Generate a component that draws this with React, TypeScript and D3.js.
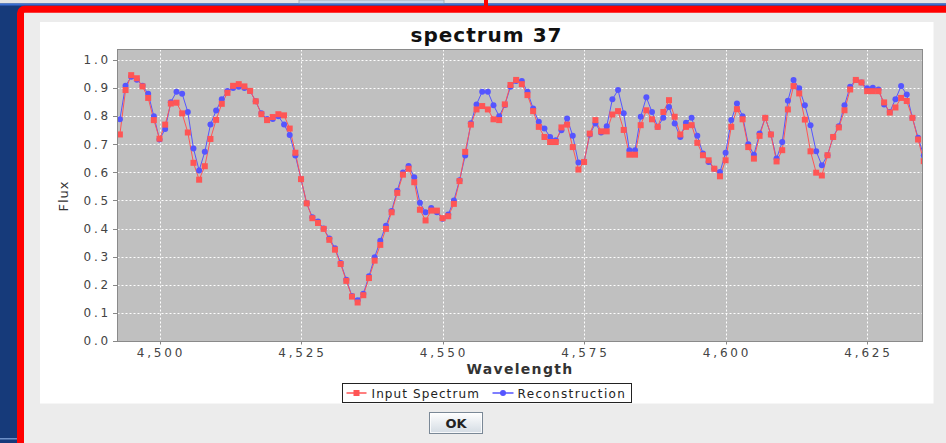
import React from "react";
import * as d3 from "d3";

const wavelengths = [
  4493, 4494, 4495, 4496, 4497, 4498, 4499, 4500, 4501, 4502,
  4503, 4504, 4505, 4506, 4507, 4508, 4509, 4510, 4511, 4512,
  4513, 4514, 4515, 4516, 4517, 4518, 4519, 4520, 4521, 4522,
  4523, 4524, 4525, 4526, 4527, 4528, 4529, 4530, 4531, 4532,
  4533, 4534, 4535, 4536, 4537, 4538, 4539, 4540, 4541, 4542,
  4543, 4544, 4545, 4546, 4547, 4548, 4549, 4550, 4551, 4552,
  4553, 4554, 4555, 4556, 4557, 4558, 4559, 4560, 4561, 4562,
  4563, 4564, 4565, 4566, 4567, 4568, 4569, 4570, 4571, 4572,
  4573, 4574, 4575, 4576, 4577, 4578, 4579, 4580, 4581, 4582,
  4583, 4584, 4585, 4586, 4587, 4588, 4589, 4590, 4591, 4592,
  4593, 4594, 4595, 4596, 4597, 4598, 4599, 4600, 4601, 4602,
  4603, 4604, 4605, 4606, 4607, 4608, 4609, 4610, 4611, 4612,
  4613, 4614, 4615, 4616, 4617, 4618, 4619, 4620, 4621, 4622,
  4623, 4624, 4625, 4626, 4627, 4628, 4629, 4630, 4631, 4632,
  4633, 4634, 4635,
];

const inputSpectrum = [
  0.735, 0.893, 0.946, 0.935, 0.906, 0.865, 0.786, 0.72, 0.77, 0.845,
  0.848, 0.81, 0.742, 0.634, 0.574, 0.622, 0.719, 0.787, 0.844, 0.883,
  0.908, 0.914, 0.906, 0.89, 0.853, 0.807, 0.786, 0.797, 0.807, 0.803,
  0.756, 0.67, 0.576, 0.49, 0.437, 0.42, 0.399, 0.36, 0.325, 0.274,
  0.214, 0.158, 0.137, 0.163, 0.224, 0.286, 0.342, 0.399, 0.458, 0.527,
  0.592, 0.613, 0.565, 0.467, 0.429, 0.464, 0.464, 0.437, 0.444, 0.488,
  0.569, 0.673, 0.77, 0.824, 0.836, 0.824, 0.789, 0.786, 0.842, 0.911,
  0.929, 0.914, 0.875, 0.818, 0.762, 0.726, 0.708, 0.708, 0.76, 0.77,
  0.69, 0.61, 0.637, 0.738, 0.786, 0.746, 0.746, 0.806, 0.818, 0.751,
  0.663, 0.663, 0.768, 0.821, 0.789, 0.762, 0.815, 0.857, 0.798, 0.735,
  0.762, 0.768, 0.705, 0.661, 0.643, 0.613, 0.586, 0.643, 0.762, 0.825,
  0.789, 0.69, 0.649, 0.73, 0.794, 0.735, 0.639, 0.679, 0.824, 0.907,
  0.881, 0.788, 0.675, 0.599, 0.589, 0.661, 0.726, 0.76, 0.821, 0.895,
  0.929, 0.92, 0.889, 0.889, 0.889, 0.849, 0.813, 0.831, 0.865, 0.854,
  0.794, 0.717, 0.64,
];

const reconstruction = [
  0.789, 0.908, 0.94, 0.93, 0.908, 0.88, 0.8, 0.717, 0.754, 0.85,
  0.887, 0.88, 0.815, 0.685, 0.607, 0.673, 0.77, 0.82, 0.86, 0.89,
  0.9, 0.905, 0.9, 0.89, 0.853, 0.81, 0.79, 0.79, 0.8, 0.77,
  0.733, 0.66, 0.576, 0.49, 0.44, 0.425, 0.4, 0.365, 0.33, 0.278,
  0.218, 0.16, 0.145, 0.168, 0.23, 0.298, 0.357, 0.41, 0.463, 0.535,
  0.6, 0.623, 0.583, 0.492, 0.458, 0.473, 0.458, 0.435, 0.45, 0.5,
  0.572, 0.66, 0.775, 0.842, 0.887, 0.887, 0.839, 0.8, 0.84, 0.905,
  0.925, 0.925, 0.887, 0.827, 0.78, 0.756, 0.726, 0.714, 0.75, 0.792,
  0.73, 0.635, 0.637, 0.735, 0.774, 0.742, 0.764, 0.86, 0.893, 0.81,
  0.679, 0.679, 0.798, 0.867, 0.815, 0.762, 0.794, 0.833, 0.774, 0.726,
  0.777, 0.794, 0.73, 0.667, 0.637, 0.613, 0.601, 0.67, 0.786, 0.845,
  0.8, 0.7, 0.663, 0.738, 0.794, 0.735, 0.649, 0.708, 0.855, 0.929,
  0.899, 0.839, 0.768, 0.675, 0.625, 0.661, 0.726, 0.764, 0.839, 0.905,
  0.929, 0.92, 0.899, 0.901, 0.895, 0.842, 0.815, 0.86, 0.907, 0.877,
  0.794, 0.723, 0.66,
];

const xTicks = [4500, 4525, 4550, 4575, 4600, 4625];
const yTicks = [0.0, 0.1, 0.2, 0.3, 0.4, 0.5, 0.6, 0.7, 0.8, 0.9, 1.0];
const chartTitle = "spectrum 37";
const xAxisLabel = "Wavelength";
const yAxisLabel = "Flux";
const seriesNames = ["Input Spectrum", "Reconstruction"];
const seriesColors = ["#FF5555", "#5555FF"];
const buttonLabel = "OK";

const FONT = "'DejaVu Sans', Verdana, sans-serif";

export default function App() {
  const W = 946;
  const H = 443;
  const plot = { left: 117.5, right: 922.5, top: 49.5, bottom: 341.5 };

  const x = d3.scaleLinear().domain([4492.58, 4634.78]).range([plot.left, plot.right]);
  const y = d3.scaleLinear().domain([0, 1.038]).range([341, 49.3]);

  const inputPts = wavelengths.map((w, i) => [w, inputSpectrum[i]] as [number, number]);
  const reconPts = wavelengths.map((w, i) => [w, reconstruction[i]] as [number, number]);

  const line = d3
    .line<[number, number]>()
    .x((d) => x(d[0]))
    .y((d) => y(d[1]));

  const fmtX = d3.format(",");
  const fmtY = d3.format(".1f");
  const snap = (v: number) => Math.round(v) + 0.5;

  return (
    <svg
      width={W}
      height={H}
      style={{ position: "fixed", left: 0, top: 0, display: "block" }}
      fontFamily={FONT}
    >
      <defs>
        <clipPath id="plotClip">
          <rect x={plot.left} y={plot.top} width={plot.right - plot.left} height={plot.bottom - plot.top} />
        </clipPath>
        <linearGradient id="btnGrad" x1="0" y1="0" x2="0" y2="1">
          <stop offset="0%" stopColor="#ffffff" />
          <stop offset="100%" stopColor="#d3dbe3" />
        </linearGradient>
      </defs>

      {/* desktop background */}
      <rect x={0} y={0} width={W} height={H} fill="#163a7a" />
      <rect x={0} y={0} width={W} height={3.5} fill="#e4e4e4" />
      <rect x={299} y={0} width={145} height={3.5} fill="#c9d9ec" stroke="#9aa4ad" strokeWidth={0.8} />
      <rect x={0} y={3.5} width={W} height={2} fill="#3b6fd2" />
      <rect x={0} y={438} width={17} height={1.5} fill="#6d8fc8" />

      {/* red frame */}
      <rect x={20.5} y={9.2} width={1000} height={1000} rx={4} fill="#ececec" stroke="#ff0000" strokeWidth={7} />
      <path d="M484,0 L488,0 L488,6 L490,6 L486,12 L482,6 L484,6 Z" fill="#ff0000" />

      {/* white chart panel */}
      <rect x={40} y={22} width={893.5} height={381.5} fill="#ffffff" />

      {/* title */}
      <text x={486.5} y={42} textAnchor="middle" fontSize={20} fontWeight="bold" fill="#111" letterSpacing={1}>
        {chartTitle}
      </text>

      {/* plot background */}
      <rect x={plot.left} y={plot.top} width={plot.right - plot.left} height={plot.bottom - plot.top} fill="#c0c0c0" />

      {/* gridlines */}
      {yTicks.slice(1).map((t) => (
        <line
          key={"gy" + t}
          x1={plot.left}
          x2={plot.right}
          y1={snap(y(t))}
          y2={snap(y(t))}
          stroke="#ffffff"
          strokeWidth={1}
          strokeDasharray="2,2"
        />
      ))}
      {xTicks.map((t) => (
        <line
          key={"gx" + t}
          x1={snap(x(t))}
          x2={snap(x(t))}
          y1={plot.top}
          y2={plot.bottom}
          stroke="#ffffff"
          strokeWidth={1}
          strokeDasharray="2,2"
        />
      ))}

      {/* series */}
      <g clipPath="url(#plotClip)">
        <path d={line(reconPts) || ""} fill="none" stroke={seriesColors[1]} strokeWidth={1} />
        <path d={line(inputPts) || ""} fill="none" stroke={seriesColors[0]} strokeWidth={1} />
        {reconPts.map((d, i) => (
          <circle key={"c" + i} cx={x(d[0])} cy={y(d[1])} r={3} fill={seriesColors[1]} />
        ))}
        {inputPts.map((d, i) => (
          <rect key={"s" + i} x={x(d[0]) - 3} y={y(d[1]) - 3} width={6} height={6} fill={seriesColors[0]} />
        ))}
      </g>

      {/* plot outline */}
      <rect
        x={plot.left}
        y={plot.top}
        width={plot.right - plot.left}
        height={plot.bottom - plot.top}
        fill="none"
        stroke="#8a8a8a"
        strokeWidth={1}
      />

      {/* y axis ticks and labels */}
      {yTicks.map((t) => (
        <g key={"ty" + t}>
          <line x1={plot.left - 4.5} x2={plot.left} y1={snap(y(t))} y2={snap(y(t))} stroke="#888" strokeWidth={1} />
          <text
            x={111}
            y={y(t) + 4.3}
            textAnchor="end"
            fontSize={12}
            fill="#444"
            letterSpacing={2.8}
          >
            {fmtY(t)}
          </text>
        </g>
      ))}

      {/* x axis ticks and labels */}
      {xTicks.map((t) => (
        <g key={"tx" + t}>
          <line x1={snap(x(t))} x2={snap(x(t))} y1={plot.bottom} y2={plot.bottom + 3} stroke="#888" strokeWidth={1} />
          <text x={x(t) + 1.4} y={356.5} textAnchor="middle" fontSize={12} fill="#444" letterSpacing={2.8}>
            {fmtX(t)}
          </text>
        </g>
      ))}

      {/* axis labels */}
      <text x={520} y={374} textAnchor="middle" fontSize={14} fontWeight="bold" fill="#333" letterSpacing={1.3}>
        {xAxisLabel}
      </text>
      <text
        transform="translate(68,196) rotate(-90)"
        textAnchor="middle"
        fontSize={13}
        fill="#333"
        letterSpacing={1}
      >
        {yAxisLabel}
      </text>

      {/* legend */}
      <rect x={342.5} y={383.5} width={289} height={19} fill="#ffffff" stroke="#222" strokeWidth={1} />
      <line x1={346.5} x2={366.5} y1={393} y2={393} stroke={seriesColors[0]} strokeWidth={1.5} />
      <rect x={353.5} y={390} width={6} height={6} fill={seriesColors[0]} />
      <text x={371.5} y={397.5} fontSize={12} fill="#222" letterSpacing={1.1}>
        {seriesNames[0]}
      </text>
      <line x1={492.5} x2={513.5} y1={393} y2={393} stroke={seriesColors[1]} strokeWidth={1.5} />
      <circle cx={503} cy={393} r={3} fill={seriesColors[1]} />
      <text x={517.5} y={397.5} fontSize={12} fill="#222" letterSpacing={1.35}>
        {seriesNames[1]}
      </text>

      {/* OK button */}
      <rect x={429.5} y={412.5} width={53} height={21} fill="url(#btnGrad)" stroke="#7a8896" strokeWidth={1} />
      <rect x={430.5} y={413.5} width={51} height={19} fill="none" stroke="#ffffff" strokeWidth={1} opacity={0.8} />
      <text x={456} y={428} textAnchor="middle" fontSize={13} fontWeight="bold" fill="#222">
        {buttonLabel}
      </text>
    </svg>
  );
}
